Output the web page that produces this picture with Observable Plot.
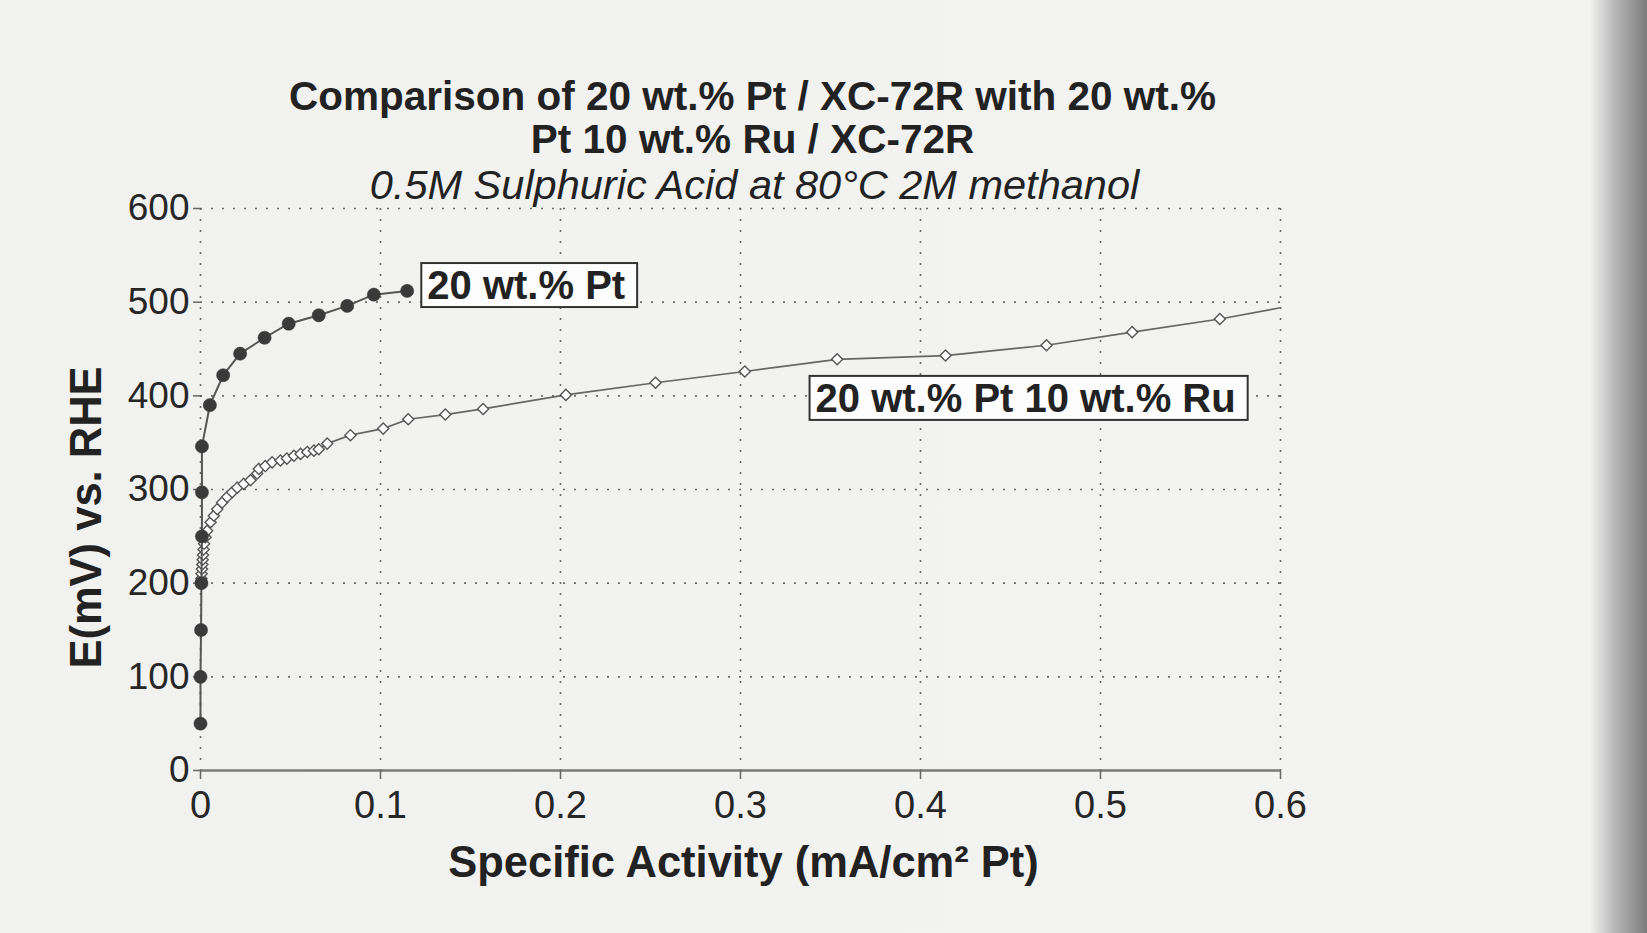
<!DOCTYPE html>
<html>
<head>
<meta charset="utf-8">
<script src="https://cdn.jsdelivr.net/npm/d3@7"></script>
<script src="https://cdn.jsdelivr.net/npm/@observablehq/plot@0.6"></script>
<style>
  html, body { margin: 0; padding: 0; }
  body {
    width: 1647px; height: 933px; overflow: hidden;
    background: linear-gradient(to right, #f1f1f0 0%, #f3f3f2 96.5%, #b9b9b9 98%, #7c7c7c 100%);
    font-family: 'Liberation Sans', Arial, sans-serif;
  }
  svg { display: block; }
</style>
</head>
<body>
<div id="chart"></div>
<script>
// ---- data ----
const ptActivity = [0, 0, 0.0003, 0.0005, 0.0008, 0.0008, 0.0008, 0.0052, 0.0126, 0.022, 0.0356, 0.049, 0.0657, 0.0815, 0.0963, 0.1148];
const ptPotential = [50, 100, 150, 200, 250, 297, 346, 390, 422, 445, 462, 477, 486, 496, 508, 512];

const ruActivity = [0.0005, 0.0006, 0.0008, 0.001, 0.0012, 0.0014, 0.0017, 0.002, 0.0028,
  0.0037, 0.0056, 0.0074, 0.0093, 0.012, 0.0148, 0.0176, 0.0204, 0.024, 0.0278, 0.0315, 0.0324,
  0.036, 0.0398, 0.0444, 0.048, 0.0519, 0.0556, 0.0593, 0.063, 0.0657, 0.0704, 0.0833, 0.1015,
  0.1154, 0.136, 0.157, 0.203, 0.2528, 0.3024, 0.3537, 0.4139, 0.47, 0.5176, 0.5663, 0.6];
const ruPotential = [205, 210, 215, 220, 225, 230, 236, 242, 249,
  256, 265, 272, 279, 286, 292, 297, 302, 306, 310, 317, 322,
  325, 329, 331, 333, 336, 338, 340, 341.5, 343, 349, 358, 365,
  375, 380, 386, 401, 414, 426, 439, 443, 454, 468, 482, 494];

const xTicks = [0, 0.1, 0.2, 0.3, 0.4, 0.5, 0.6];
const xTickLabels = ["0", "0.1", "0.2", "0.3", "0.4", "0.5", "0.6"];
const yTicks = [0, 100, 200, 300, 400, 500, 600];
const yTickLabels = ["0", "100", "200", "300", "400", "500", "600"];

const titleLines = ["Comparison of 20 wt.% Pt / XC-72R with 20 wt.%", "Pt 10 wt.% Ru / XC-72R"];
const subtitle = "0.5M Sulphuric Acid at 80°C 2M methanol";
const xLabel = "Specific Activity (mA/cm² Pt)";
const yLabel = "E(mV) vs. RHE";
const seriesLabels = [
  {name: "20 wt.% Pt", x: 0.126, y: 517},
  {name: "20 wt.% Pt 10 wt.% Ru", x: 0.3417, y: 396.5}
];

// ---- tables ----
const pt = ptActivity.map((x, i) => ({x, y: ptPotential[i]}));
const ru = ruActivity.map((x, i) => ({x, y: ruPotential[i]}));

const font = "'Liberation Sans', Arial, sans-serif";
const gridStyle = {stroke: "#555", strokeOpacity: 0.85, strokeWidth: 1.6, strokeDasharray: "2,9"};

const chart = Plot.plot({
  width: 1647,
  height: 933,
  marginLeft: 200,
  marginRight: 367,
  marginTop: 208,
  marginBottom: 163,
  style: {background: "transparent", fontFamily: font, color: "#262626"},
  x: {domain: [0, 0.6]},
  y: {domain: [0, 600]},
  marks: [
    Plot.gridX(xTicks.slice(1), gridStyle),
    Plot.gridY(yTicks.slice(1), gridStyle),
    Plot.ruleX([0], gridStyle),
    Plot.ruleY([0], {stroke: "#7a7a7a", strokeWidth: 2.5}),
    Plot.axisX(xTicks, {
      tickSize: 9, tickPadding: 12, fontSize: 38, stroke: "#666", strokeWidth: 1.5,
      tickFormat: d => xTickLabels[xTicks.indexOf(d)], label: null
    }),
    Plot.axisY(yTicks, {
      tickSize: 7, tickPadding: 4, fontSize: 37, stroke: "#666", strokeWidth: 1.5,
      tickFormat: d => yTickLabels[yTicks.indexOf(d)], label: null
    }),
    Plot.line(ru, {x: "x", y: "y", stroke: "#666", strokeWidth: 1.7}),
    Plot.dot(ru.slice(0, -1), {x: "x", y: "y", symbol: "diamond2", r: 5, fill: "#fff", stroke: "#555", strokeWidth: 1.4}),
    Plot.line(pt, {x: "x", y: "y", stroke: "#555", strokeWidth: 2}),
    Plot.dot(pt, {x: "x", y: "y", r: 6.6, fill: "#3a3a3a", stroke: "#3a3a3a", strokeWidth: 0.5}),
    Plot.text(seriesLabels, {
      x: "x", y: "y", text: "name", textAnchor: "start", lineAnchor: "middle",
      fontSize: 40, fontWeight: "bold", fill: "#222", className: "boxlabel"
    }),
    Plot.text([titleLines[0]], {frameAnchor: "top", dx: 12, dy: -99, lineAnchor: "bottom", fontSize: 40.5, fontWeight: "bold", fill: "#222"}),
    Plot.text([titleLines[1]], {frameAnchor: "top", dx: 12, dy: -56, lineAnchor: "bottom", fontSize: 40.5, fontWeight: "bold", fill: "#222"}),
    Plot.text([subtitle], {frameAnchor: "top", dx: 14, dy: -10, lineAnchor: "bottom", fontSize: 41.5, fontStyle: "italic", fill: "#222"}),
    Plot.text([xLabel], {frameAnchor: "bottom", dx: 3, dy: 93, lineAnchor: "middle", fontSize: 43.5, fontWeight: "bold", fill: "#222"}),
    Plot.text([yLabel], {frameAnchor: "left", dx: -113, dy: 28, rotate: -90, textAnchor: "middle", lineAnchor: "middle", fontSize: 43.5, fontWeight: "bold", fill: "#222"})
  ]
});

document.getElementById("chart").append(chart);

// boxes behind the series labels
const svgns = "http://www.w3.org/2000/svg";
chart.querySelectorAll("g.boxlabel text").forEach(t => {
  const b = t.getBBox();
  const r = document.createElementNS(svgns, "rect");
  r.setAttribute("x", b.x - 6);
  r.setAttribute("y", b.y);
  r.setAttribute("width", b.width + 18);
  r.setAttribute("height", b.height);
  r.setAttribute("fill", "#fdfdfd");
  r.setAttribute("stroke", "#333");
  r.setAttribute("stroke-width", 2);
  const tr = t.getAttribute("transform");
  if (tr) r.setAttribute("transform", tr);
  t.parentNode.insertBefore(r, t);
});
</script>
</body>
</html>
